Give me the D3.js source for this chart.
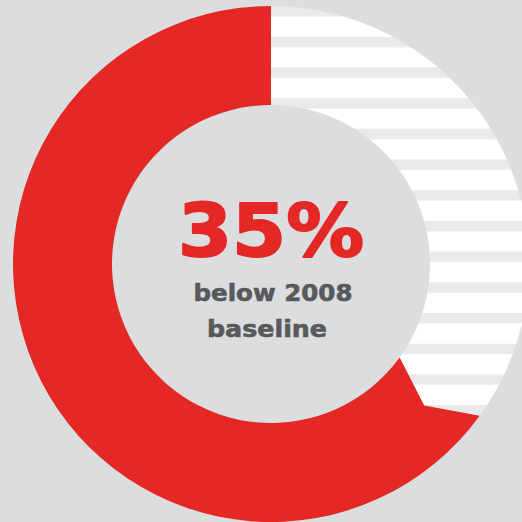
<!DOCTYPE html>
<html><head><meta charset="utf-8">
<script src="https://cdn.jsdelivr.net/npm/d3@7"></script>
<style>html,body{margin:0;padding:0;background:#dcdddf;}svg{display:block;}</style>
</head><body>
<svg id="c" width="522" height="522"></svg>
<script>
const categories = ["Reduction achieved", "Remaining"];
const values = [35, 65];
const headline = "35%";
const subLines = ["below 2008", "baseline"];

const W = 522, H = 522;
const cx = 271, cy = 264, R = 258, r = 159;
const svg = d3.select("#c");
svg.append("rect").attr("width", W).attr("height", H).attr("fill", "#dcdddf");

const defs = svg.append("defs");
const pat = defs.append("pattern").attr("id", "stripes")
  .attr("patternUnits", "userSpaceOnUse")
  .attr("x", 0).attr("y", 6).attr("width", 600).attr("height", 30.7);
pat.append("rect").attr("width", 600).attr("height", 30.7).attr("fill", "#ffffff");
pat.append("rect").attr("width", 600).attr("height", 10.4).attr("fill", "#e9eaec");

const pie = d3.pie().sort(null).value(d => d);
const arcs = pie(values);
const arc = d3.arc().innerRadius(r).outerRadius(R);

// red remaining portion
svg.append("g").attr("transform", `translate(${cx},${cy})`)
  .append("path").attr("d", arc(arcs[1])).attr("fill", "#e42826");

// striped reduction portion, built in absolute coordinates so the stripes align
const a0 = arcs[0].startAngle, a1 = arcs[0].endAngle;
const notch = 6.7 * Math.PI / 180, rm = (R + r) / 2;
const toC = a => a - Math.PI / 2;
const pt = (rad, a) => [cx + Math.sin(a) * rad, cy - Math.cos(a) * rad];
const p = d3.path();
p.moveTo(...pt(R, a0));
p.arc(cx, cy, R, toC(a0), toC(a1), false);
p.lineTo(...pt(rm, a1 + notch));
p.lineTo(...pt(r, a1));
p.arc(cx, cy, r, toC(a1), toC(a0), true);
p.closePath();
svg.append("path").attr("d", p.toString()).attr("fill", "url(#stripes)");

// centre text
const t = svg.append("g");
t.append("text").attr("x", 271).attr("y", 256).attr("text-anchor", "middle")
  .attr("font-family", "DejaVu Sans").attr("font-weight", "bold")
  .attr("font-size", 73).attr("fill", "#e42826")
  .attr("stroke", "#e42826").attr("stroke-width", 2).attr("stroke-linejoin", "round")
  .attr("textLength", 186).attr("lengthAdjust", "spacingAndGlyphs")
  .text(headline);
t.append("text").attr("x", 273).attr("y", 301).attr("text-anchor", "middle")
  .attr("font-family", "DejaVu Sans").attr("font-weight", "bold")
  .attr("font-size", 23).attr("fill", "#58595b")
  .attr("stroke", "#58595b").attr("stroke-width", 0.6)
  .attr("textLength", 159).attr("lengthAdjust", "spacingAndGlyphs")
  .text(subLines[0]);
t.append("text").attr("x", 267).attr("y", 337).attr("text-anchor", "middle")
  .attr("font-family", "DejaVu Sans").attr("font-weight", "bold")
  .attr("font-size", 23).attr("fill", "#58595b")
  .attr("stroke", "#58595b").attr("stroke-width", 0.6)
  .attr("textLength", 120).attr("lengthAdjust", "spacingAndGlyphs")
  .text(subLines[1]);
</script>
</body></html>
